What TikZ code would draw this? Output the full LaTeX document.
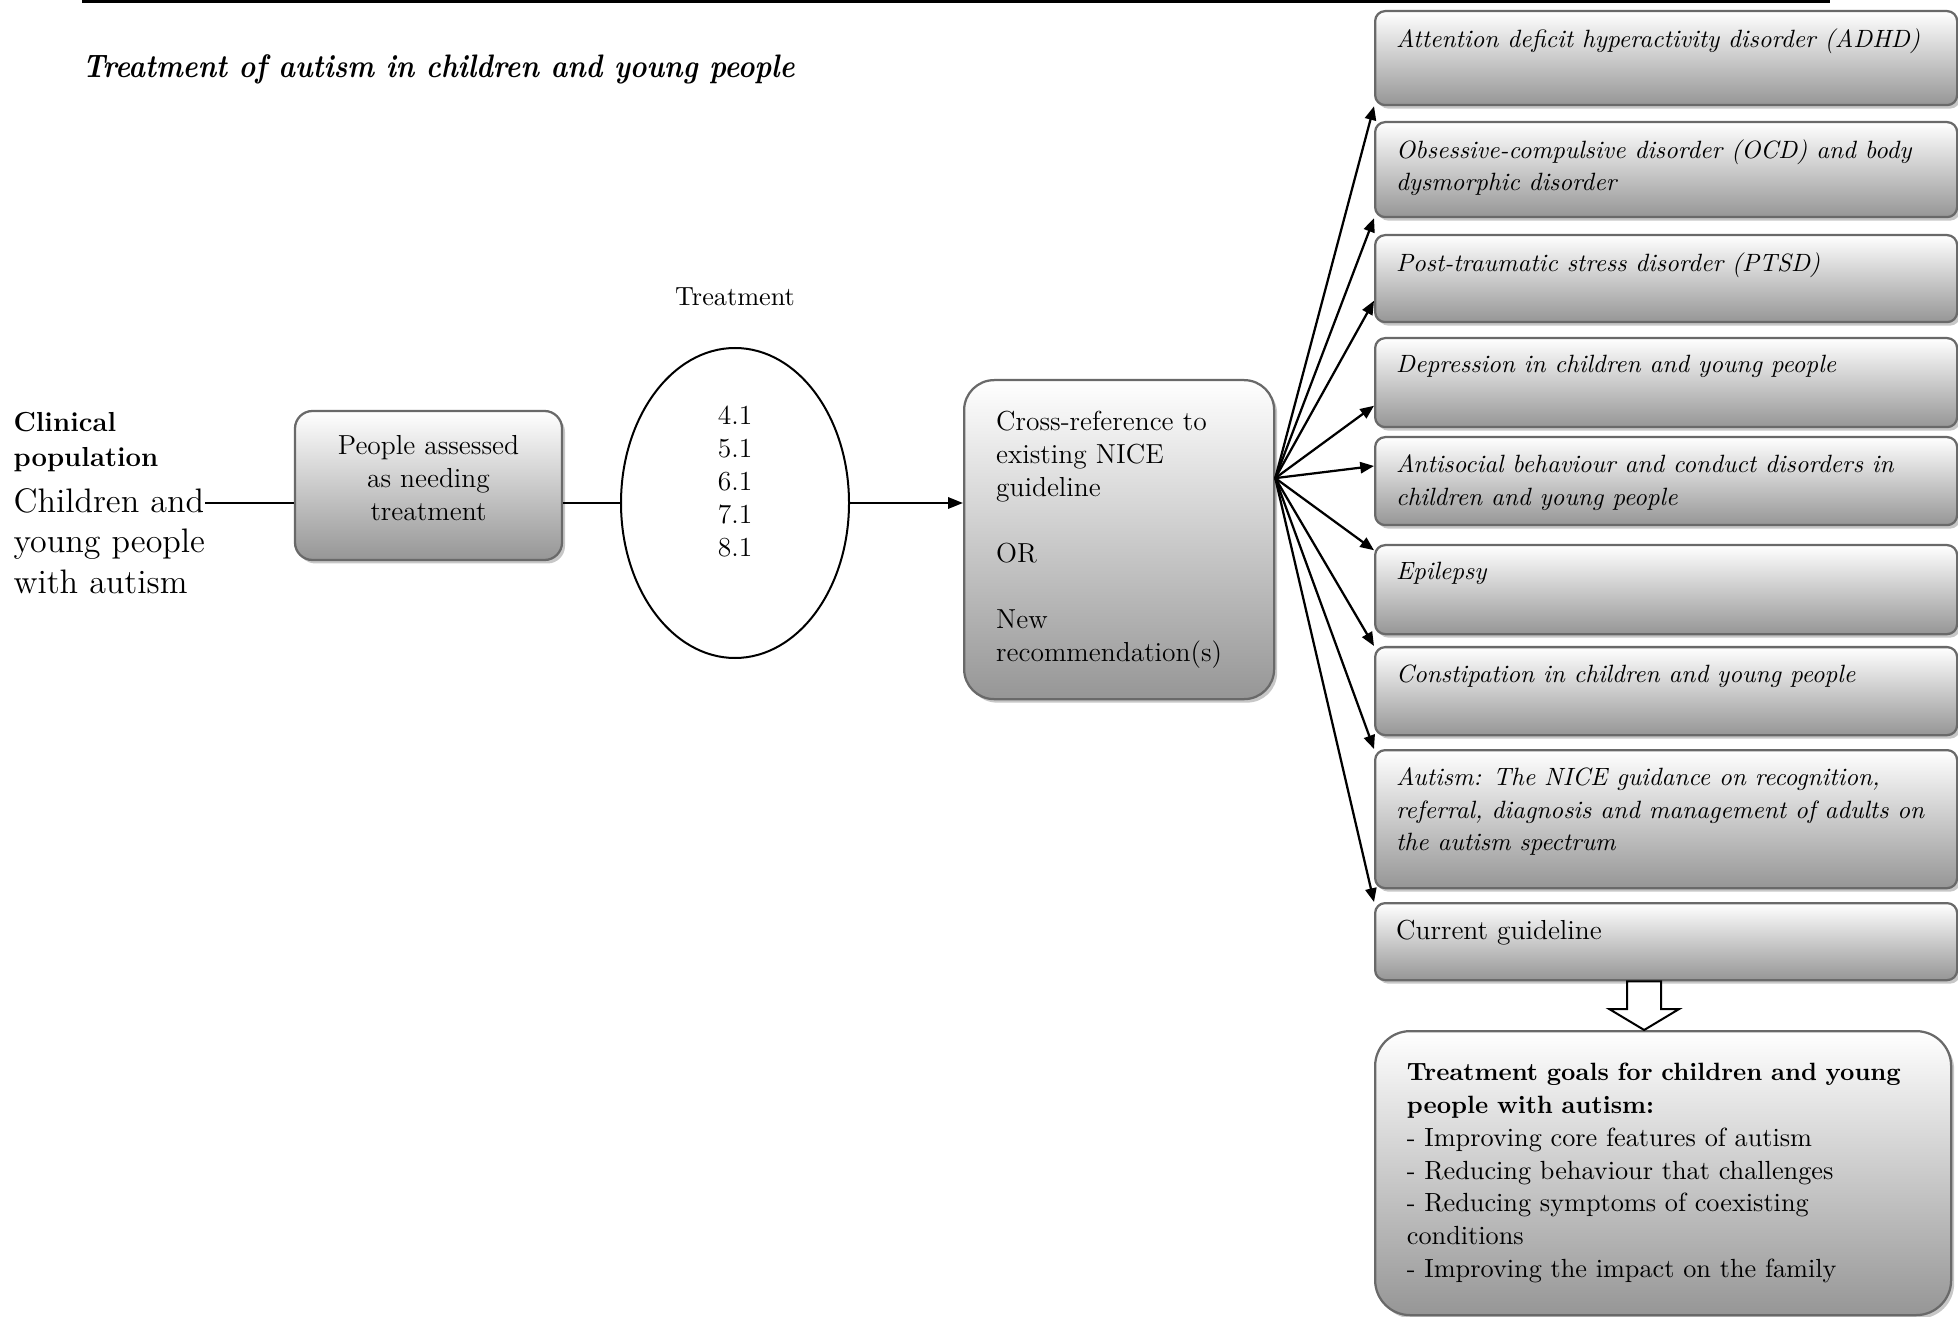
\documentclass[tikz,border=0pt]{standalone}
\usepackage{graphicx}
\usepackage{tikz}
\usetikzlibrary{arrows.meta,positioning,shadows,calc,shapes.geometric}
\definecolor{boxline}{RGB}{105,105,105}
\definecolor{boxgrey}{RGB}{150,150,150}
\newcommand{\boxtext}[2]{\parbox[t][#1][t]{216pt}{\raggedright #2}}

\tikzset{
	shade box/.style={draw=boxline, line width=0.9pt, top color=white, bottom color=boxgrey,
		drop shadow={shadow xshift=1.2pt, shadow yshift=-1.4pt, fill=black, opacity=0.22}},
	disorder/.style={shade box, rounded corners=4pt, anchor=north west, inner xsep=8.4pt, inner ysep=7pt,
		font=\fontsize{10}{13}\selectfont\itshape},
	fan arrow/.style={line width=0.9pt, -{Triangle[length=5.5pt,width=4.5pt]}},
	main line/.style={line width=1pt},
}

\begin{document}
\begin{tikzpicture}[x=0.4pt, y=-0.4pt]
	\useasboundingbox (0,0) rectangle (1958,1317);
	
	\draw[line width=1.2pt] (82,1.5) -- (1830,1.5);
	\node[anchor=west, inner xsep=0pt, font=\fontsize{13}{15}\selectfont\bfseries\itshape] (title) at (82,69)
		{\scalebox{0.87}[1]{Treatment of autism in children and young people}};
	
	% population and treatment
	\node[anchor=north west, inner sep=0pt, align=left, font=\fontsize{11}{14}\selectfont\bfseries] (clin) at (13,412) {Clinical\\population};
	\node[anchor=north west, inner sep=0pt, align=left, font=\fontsize{13.6}{16.2}\selectfont] (pop) at (13,488) {Children and\\young people\\with autism};
	
	\node[shade box, rounded corners=7pt, minimum width=106.8pt, minimum height=59.6pt, align=center,
		font=\fontsize{11}{13.2}\selectfont] (people) at (428.5,485.5) {People assessed\\as needing\\treatment\\[-7pt]\mbox{}};
	\node[draw, ellipse, line width=0.8pt, minimum width=91.2pt, minimum height=124pt, inner sep=0pt, align=center,
		font=\fontsize{11}{13.2}\selectfont] (ell) at (735,503) {4.1\\5.1\\6.1\\7.1\\8.1\\\strut};
	\node[above=13pt of ell, font=\fontsize{10.5}{12}\selectfont] (treat) {Treatment};
	
	\node[shade box, rounded corners=12pt, anchor=north west, minimum width=124pt, minimum height=127.6pt,
		text width=98.4pt, inner xsep=12.8pt, align=left, font=\fontsize{11}{13.2}\selectfont] (cross) at (963,379)
		{Cross-reference to\\existing NICE\\guideline\\[13.2pt]OR\\[13.2pt]New\\recommendation(s)};
	
	\draw[main line] (pop.east |- ell.west) -- (people.west |- ell.west);
	\draw[main line] (people.east |- ell.west) -- (ell.west);
	\draw[main line, -{Triangle[length=6pt,width=4.5pt]}] (ell.east) -- (cross.west |- ell.east);
	
	% existing guidelines
	\node[disorder] (d1) at (1374,10) {\boxtext{23.6pt}{Attention deficit hyperactivity disorder (ADHD)}};
	\node[disorder] (d2) at (1374,121) {\boxtext{24pt}{Obsessive-compulsive disorder (OCD) and body\\dysmorphic disorder}};
	\node[disorder] (d3) at (1374,234) {\boxtext{20.8pt}{Post-traumatic stress disorder (PTSD)}};
	\node[disorder] (d4) at (1374,337) {\boxtext{21.6pt}{Depression in children and young people}};
	\node[disorder] (d5) at (1374,436) {\boxtext{21.2pt}{Antisocial behaviour and conduct disorders in\\children and young people}};
	\node[disorder] (d6) at (1374,544) {\boxtext{21.6pt}{Epilepsy}};
	\node[disorder] (d7) at (1374,646) {\boxtext{21.2pt}{Constipation in children and young people}};
	\node[disorder] (d8) at (1374,749) {\boxtext{41.2pt}{Autism: The NICE guidance on recognition,\\referral, diagnosis and management of adults on\\the autism spectrum}};
	\node[disorder, font=\fontsize{11}{13.2}\selectfont] (cur) at (1374,902) {\boxtext{16.8pt}{Current guideline}};
	
	% arrow ends on the left edges
	\coordinate (fan) at ([yshift=24.6pt]cross.east);
	\coordinate (t1) at (d1.south west);
	\coordinate (t2) at (d2.south west);
	\coordinate (t3) at ([yshift=9pt]d3.south west);
	\coordinate (t4) at ([yshift=9pt]d4.south west);
	\coordinate (t5) at ([yshift=-12pt]d5.north west);
	\coordinate (t6) at ([yshift=-2.5pt]d6.north west);
	\coordinate (t7) at (d7.north west);
	\coordinate (t8) at (d8.north west);
	\coordinate (t9) at (cur.north west);
	\foreach \i in {1,...,9}
		\draw[fan arrow] (fan) -- (t\i);
	
	% goals
	\node[shade box, rounded corners=14pt, anchor=north west, minimum width=230.4pt, minimum height=113.6pt,
		text width=205pt, inner xsep=12.7pt, align=left, font=\fontsize{10.5}{13.1}\selectfont] (goals) at (1374,1030)
		{\textbf{\fontsize{10}{13.1}\selectfont Treatment goals for children and young}\\
		\textbf{\fontsize{10}{13.1}\selectfont people with autism:}\\
		- Improving core features of autism\\
		- Reducing behaviour that challenges\\
		- Reducing symptoms of coexisting\\
		conditions\\
		- Improving the impact on the family};
	
	\coordinate (ha) at ($(cur.south)+(-22,0)$);
	\coordinate (hb) at (ha |- goals.north);
	\draw[line width=0.8pt, fill=white] ($(ha)+(-17,0)$) -- ($(ha)+(17,0)$) -- ($(hb)+(17,-21)$) -- ($(hb)+(35,-21)$)
		-- (hb) -- ($(hb)+(-35,-21)$) -- ($(hb)+(-17,-21)$) -- cycle;
\end{tikzpicture}
\end{document}
